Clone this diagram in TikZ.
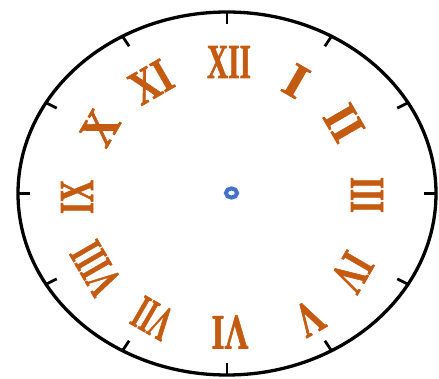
\documentclass[tikz,border=0pt]{standalone}
\usepackage{fontspec}
\setmainfont{Liberation Serif}
\newfontfamily\numfont[FakeBold=1.6]{Liberation Serif Bold}
\usetikzlibrary{calc}
\definecolor{numcol}{HTML}{C55A11}
\definecolor{dotcol}{HTML}{4472C4}
\tikzset{
  numeral/.style={text=numcol, inner sep=0pt, font=\numfont},
  rim/.style={line width=3.3pt, draw=black},
  tick/.style={line width=2.8pt, draw=black}
}
\newcommand{\rn}[2]{\resizebox{#1pt}{32pt}{#2}}
\begin{document}
\begin{tikzpicture}[x=1pt,y=-1pt]
\useasboundingbox (0,0) rectangle (439,379);
\coordinate (C) at (227,193.5);
\draw[rim] (C) ellipse [x radius=209, y radius=181.5];
\foreach \a in {0,30,...,330}{
  \coordinate (P) at ($(C)+({209*cos(\a)},{-181.5*sin(\a)})$);
  \draw[tick] (P) -- ($(P)!12pt!(C)$);
}
\draw[dotcol, line width=4pt] (231.5,193) ellipse [x radius=5.6, y radius=4.6];
\node[numeral] (n12) at (229,62) {\rn{44}{XII}};
\node[numeral, rotate=-30] (n1) at (296,81) {\rn{20}{I}};
\node[numeral, rotate=-60] (n2) at (344,123) {\rn{33}{II}};
\node[numeral, rotate=-90] (n3) at (367,195) {\rn{36}{III}};
\node[numeral, rotate=-120] (n4) at (352,272) {\rn{36}{IV}};
\node[numeral, rotate=-150] (n5) at (309,318) {\rn{25}{V}};
\node[numeral, rotate=180] (n6) at (230,332) {\rn{37}{VI}};
\node[numeral, rotate=150] (n7) at (153,318) {\rn{38}{VII}};
\node[numeral, rotate=120] (n8) at (96,268) {\rn{52}{VIII}};
\node[numeral, rotate=90] (n9) at (77,197) {\rn{34}{IX}};
\node[numeral, rotate=60] (n10) at (100,128) {\rn{31}{X}};
\node[numeral, rotate=30] (n11) at (151,82) {\rn{41}{XI}};
\end{tikzpicture}
\end{document}
